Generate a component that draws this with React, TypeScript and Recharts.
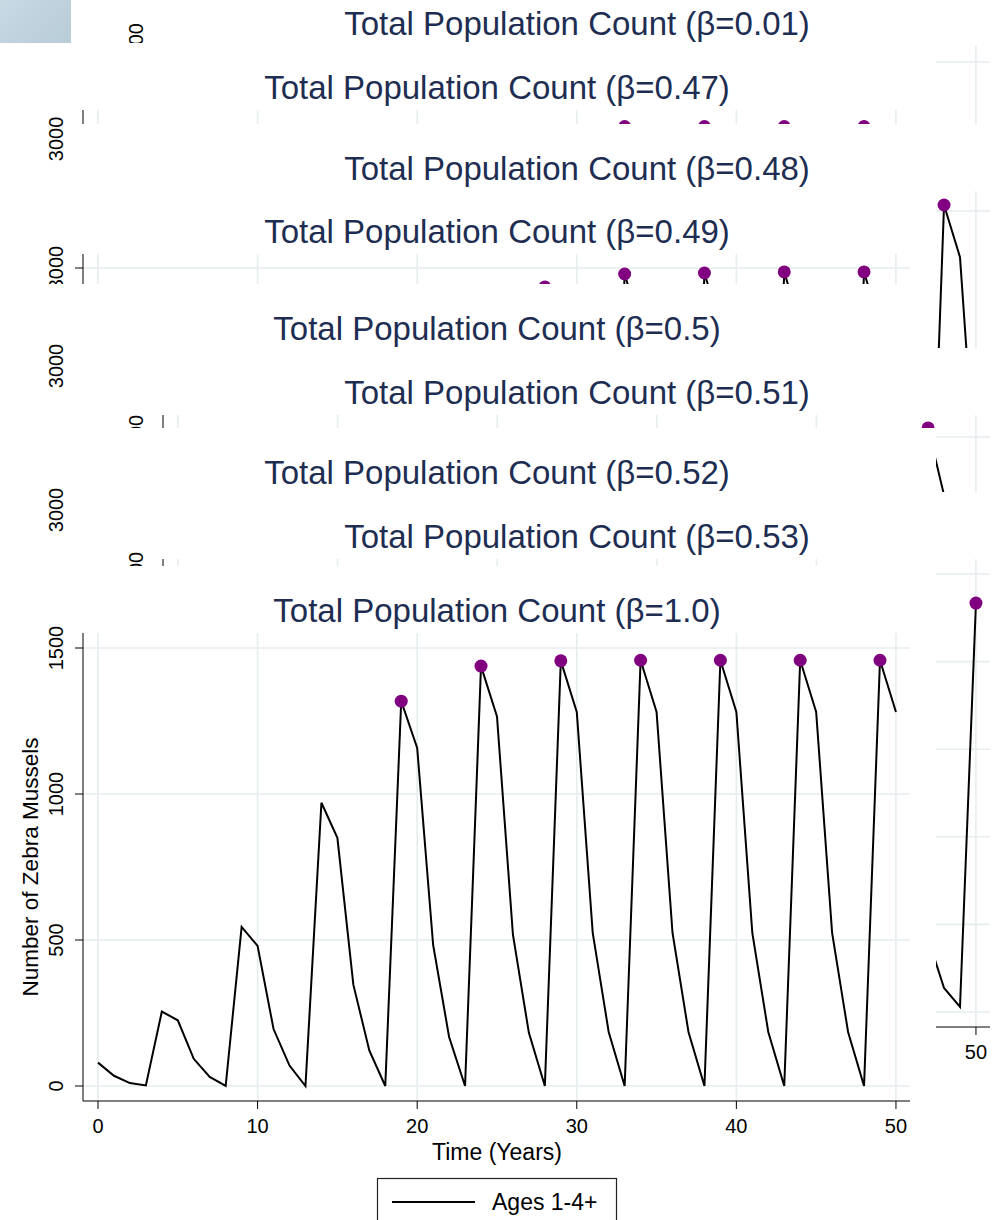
import React from 'react';
import { ComposedChart, Line, XAxis, YAxis, CartesianGrid } from 'recharts';

// ---------- data ----------
const years = [0,1,2,3,4,5,6,7,8,9,10,11,12,13,14,15,16,17,18,19,20,21,22,23,24,25,26,27,28,29,30,31,32,33,34,35,36,37,38,39,40,41,42,43,44,45,46,47,48,49,50];
const xTicks = [0, 10, 20, 30, 40, 50];

const betaLabels = ['0.01', '0.47', '0.48', '0.49', '0.5', '0.51', '0.52', '0.53', '1.0'];

const pop001 = [80,40,15,300,265, 110,39,0,2000,1760, 720,254,0,12000,10550, 4320,1520,0,70000,61500, 25200,8900,0,300000,263700, 108000,38100,0,800000,703000, 288000,101600,0,1400000,1230000, 504000,177800,0,1900000,1670000, 684000,241300,0,2200000,1934000, 792000,279400,0,2400000,2110000, 864000];
const pop047 = [80,40,15,260,230, 95,33,0,560,490, 200,70,0,1050,920, 380,133,0,1750,1535, 630,222,0,2500,2190, 900,318,0,3057,2680, 1100,388,0,3088,2708, 1112,392,0,3088,2708, 1112,392,0,3088,2708, 1112,392,0,3088,2708, 1112];
const pop048 = [80,40,15,258,228, 94,33,0,555,488, 199,70,0,1040,912, 376,131,0,1725,1512, 621,219,0,2450,2148, 882,311,0,2960,2600, 1065,376,0,3030,2670, 1090,385,0,3040,2678, 1094,386,0,3042,2681, 1095,386,0,3042,2681, 1095];
const pop049 = [80,40,15,255,225, 93,32,0,550,485, 198,69,0,1030,905, 372,130,0,1700,1490, 612,216,0,2400,2105, 865,305,0,2870,2520, 1035,365,0,2959,2595, 1066,376,0,2966,2601, 1069,377,0,2973,2607, 1071,378,0,2973,2607, 1071];
const pop050 = [80,38,14,4,1, 250,220,90,32,0, 540,474,194,69,0, 1000,877,360,127,0, 1660,1456,597,211,0, 2330,2044,838,296,0, 2780,2440,1000,353,0, 2910,2552,1047,369,0, 2950,2587,1061,374,0, 2965,2600,1066,376,0, 2970];
const pop051 = [80,40,250,220,90, 32,0,530,465,190, 67,0,990,868,356, 126,0,1650,1440,590, 209,0,2320,2030,834, 295,0,2780,2390,985, 345,0,2900,2480,1025, 360,0,2950,2520,1045, 368,0,2990,2545,1058, 372,0,3063,2596,1065, 375];
const pop052 = [80,245,215,88,31, 0,520,456,186,66, 0,960,842,345,122, 0,1600,1400,575,203, 0,2250,1970,810,285, 0,2700,2360,970,342, 0,2880,2520,1035,365, 0,2940,2570,1055,372, 0,2960,2590,1063,375, 0,2970,2598,1066,376, 0];
const pop053 = [80,40,230,200,90, 35,8,1,520,455, 225,92,25,4,1000, 880,430,175,58,12, 1580,1390,680,280,90, 19,2000,1760,860,350, 112,24,2250,1980,970, 405,132,28,2300,2024, 990,415,135,29,2320, 2040,1000,420,137,29, 2334];
const pop100 = [80,35,10,2,255, 225,93,31,0,545, 480,195,70,0,970, 850,347,122,0,1318, 1158,483,168,0,1438, 1266,518,182,0,1456, 1281,524,185,0,1458, 1281,524,185,0,1458, 1281,524,185,0,1458, 1281,524,185,0,1458, 1281];

const peaks001 = [28, 33, 38, 43, 48];
const peaks047 = [28, 33, 38, 43, 48];
const peaks048 = [28, 33, 38, 43, 48];
const peaks049 = [28, 33, 38, 43, 48];
const peaks050 = [30, 35, 40, 45, 50];
const peaks051 = [27, 32, 37, 42, 47];
const peaks052 = [26, 31, 36, 41, 46];
const peaks053 = [26, 32, 38, 44, 50];
const peaks100 = [19, 24, 29, 34, 39, 44, 49];

const yTicks001 = [0, 1000000, 2000000, 3000000];
const yTicks3000 = [0, 1000, 2000, 3000];
const yTicks053 = [0, 500, 1000, 1500, 2000, 2500];
const yTicks100 = [0, 500, 1000, 1500];

const legendLabel = 'Ages 1-4+';
const xTitle = 'Time (Years)';
const yTitle = 'Number of Zebra Mussels';

// ---------- layout / style ----------
const FONT = "'Liberation Sans', Arial, Helvetica, sans-serif";
const NAVY = '#1e2d52';
const PURPLE = '#800080';
const GRID = '#e6eef0';
const PANEL_H = 690;
const PLOT_TOP = 67;
const PLOT_BOTTOM = 535;
const XAXIS_H = 40;
const X_DOMAIN: [number, number] = [-0.94, 50.88];

type Panel = {
  beta: string;
  values: number[];
  peaks: number[];
  yTicks: number[];
  yDomain: [number, number];
  shifted: boolean;
  top: number;
};

const panels: Panel[] = [
  { beta: betaLabels[0], values: pop001, peaks: peaks001, yTicks: yTicks001, yDomain: [-102975, 3109840], shifted: true, top: -21 },
  { beta: betaLabels[1], values: pop047, peaks: peaks047, yTicks: yTicks3000, yDomain: [-106, 3205], shifted: false, top: 43 },
  { beta: betaLabels[2], values: pop048, peaks: peaks048, yTicks: yTicks3000, yDomain: [-104, 3139], shifted: true, top: 124 },
  { beta: betaLabels[3], values: pop049, peaks: peaks049, yTicks: yTicks3000, yDomain: [-102.5, 3095.7], shifted: false, top: 187 },
  { beta: betaLabels[4], values: pop050, peaks: peaks050, yTicks: yTicks3000, yDomain: [-102.7, 3102.7], shifted: false, top: 284 },
  { beta: betaLabels[5], values: pop051, peaks: peaks051, yTicks: yTicks3000, yDomain: [-104.4, 3153.1], shifted: true, top: 348 },
  { beta: betaLabels[6], values: pop052, peaks: peaks052, yTicks: yTicks3000, yDomain: [-102.7, 3102.7], shifted: false, top: 428 },
  { beta: betaLabels[7], values: pop053, peaks: peaks053, yTicks: yTicks053, yDomain: [-85.6, 2585.6], shifted: true, top: 492 },
  { beta: betaLabels[8], values: pop100, peaks: peaks100, yTicks: yTicks100, yDomain: [-51.4, 1551.4], shifted: false, top: 566 },
];

const YTick = (props: any) => {
  const { x, y, payload } = props;
  return (
    <text
      x={x}
      y={y}
      transform={`rotate(-90, ${x}, ${y})`}
      textAnchor="middle"
      fontSize={20}
      fontFamily={FONT}
      fill="#000"
    >
      {String(payload.value)}
    </text>
  );
};

function PanelView({ p, z }: { p: Panel; z: number }) {
  const left = p.shifted ? 72 : 0;
  const inner = p.shifted ? 8 : 0;
  const width = p.shifted ? 914 : 936;
  const data = years.map((t, i) => ({
    t,
    v: p.values[i],
    peak: p.peaks.includes(t) ? p.values[i] : null,
  }));
  return (
    <div
      style={{
        position: 'absolute',
        left,
        top: p.top,
        width: width + inner,
        height: PANEL_H,
        overflow: 'hidden',
        background: '#fff',
        zIndex: z,
      }}
    >
      <div style={{ position: 'absolute', left: inner, top: 0, width, height: PANEL_H }}>
        <ComposedChart
          width={width}
          height={PANEL_H}
          data={data}
          margin={{ top: PLOT_TOP, right: width - 910, bottom: PANEL_H - PLOT_BOTTOM - XAXIS_H, left: 0 }}
        >
          <CartesianGrid stroke={GRID} strokeWidth={1.6} syncWithTicks />
          <XAxis
            type="number"
            dataKey="t"
            domain={X_DOMAIN}
            ticks={xTicks}
            interval={0}
            allowDataOverflow
            height={XAXIS_H}
            tickSize={8}
            tickMargin={10}
            stroke="#000"
            tick={{ fill: '#000', fontSize: 20, fontFamily: FONT }}
          />
          <YAxis
            type="number"
            domain={p.yDomain}
            ticks={p.yTicks}
            interval={0}
            allowDataOverflow
            width={83}
            tickSize={8}
            tickMargin={12}
            stroke="#000"
            tick={<YTick />}
          />
          <Line
            type="linear"
            dataKey="v"
            stroke="#000"
            strokeWidth={2}
            dot={false}
            isAnimationActive={false}
          />
          <Line
            type="linear"
            dataKey="peak"
            stroke="none"
            dot={{ r: 6.5, fill: PURPLE, stroke: PURPLE, strokeWidth: 0 }}
            activeDot={false}
            isAnimationActive={false}
          />
        </ComposedChart>
        <svg
          width={width}
          height={PANEL_H}
          style={{ position: 'absolute', left: 0, top: 0, pointerEvents: 'none' }}
          fontFamily={FONT}
        >
          <text x={497} y={56} textAnchor="middle" fontSize={33} fill={NAVY}>
            {`Total Population Count (β=${p.beta})`}
          </text>
          <text
            x={38}
            y={301}
            transform="rotate(-90, 38, 301)"
            textAnchor="middle"
            fontSize={22.5}
            fill="#000"
          >
            {yTitle}
          </text>
          <text x={497} y={594} textAnchor="middle" fontSize={23} fill="#000">
            {xTitle}
          </text>
          <rect x={377.5} y={612.5} width={239} height={70} fill="#fff" stroke="#222" strokeWidth={1.2} />
          <line x1={392} y1={636} x2={475} y2={636} stroke="#000" strokeWidth={2} />
          <text x={492} y={644} fontSize={23} fill="#000">
            {legendLabel}
          </text>
        </svg>
      </div>
    </div>
  );
}

export default function App() {
  return (
    <div
      style={{
        position: 'absolute',
        left: 0,
        top: 0,
        width: 994,
        height: 1220,
        overflow: 'hidden',
        background: '#fff',
      }}
    >
      <div
        style={{
          position: 'absolute',
          left: 0,
          top: 0,
          width: 71,
          height: 43,
          background: 'linear-gradient(135deg, #c9dae4 0%, #bfd2de 45%, #b9cdd9 100%)',
        }}
      />
      {panels.map((p, i) => (
        <PanelView key={p.beta} p={p} z={i + 1} />
      ))}
    </div>
  );
}
